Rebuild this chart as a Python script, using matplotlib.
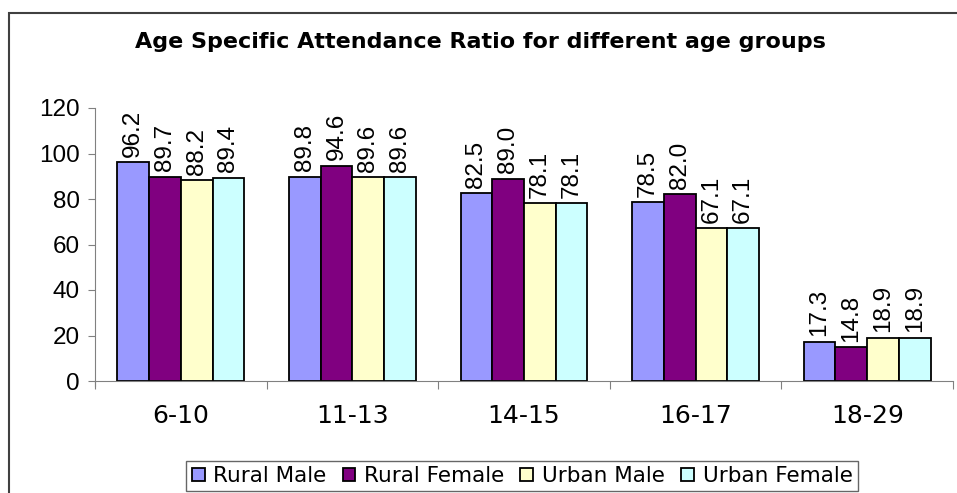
import numpy as np
import matplotlib.pyplot as plt
from matplotlib.patches import Rectangle

# Age groups and attendance ratios
age_groups = ["6-10", "11-13", "14-15", "16-17", "18-29"]
rural_male = [96.2, 89.8, 82.5, 78.5, 17.3]
rural_female = [89.7, 94.6, 89.0, 82.0, 14.8]
urban_male = [88.2, 89.6, 78.1, 67.1, 18.9]
urban_female = [89.4, 89.6, 78.1, 67.1, 18.9]

series_names = ["Rural Male", "Rural Female", "Urban Male", "Urban Female"]
series_values = [rural_male, rural_female, urban_male, urban_female]
colors = ["#9999FF", "#800080", "#FFFFCC", "#CCFFFF"]

fig = plt.figure(figsize=(9.57, 4.93), dpi=100)

# outer chart border (only top and left edges show in the picture)
fig.patches.append(Rectangle((9 / 957, -0.1), 1.2, 1 - 13 / 493 + 0.1,
                             transform=fig.transFigure, fill=False,
                             edgecolor="#404040", linewidth=1.5))

ax = fig.add_axes([95 / 957, 1 - 381 / 493, (953 - 95) / 957, (381 - 108) / 493])

x = np.arange(len(age_groups))
bar_w = 0.185
offsets = (np.arange(4) - 1.5) * bar_w

for name, vals, col, off in zip(series_names, series_values, colors, offsets):
    bars = ax.bar(x + off, vals, bar_w, color=col, edgecolor="black",
                  linewidth=1.3, label=name)
    for b, v in zip(bars, vals):
        ax.annotate(f"{v:.1f}", (b.get_x() + b.get_width() / 2, v),
                    xytext=(0, 4), textcoords="offset points",
                    rotation=90, ha="center", va="bottom",
                    fontsize=17.5, family="Liberation Sans")

ax.set_xlim(-0.5, len(age_groups) - 0.5)
ax.set_ylim(0, 120)
ax.set_yticks(range(0, 121, 20))
ax.tick_params(axis="y", labelsize=17.5, length=5, color="#808080", pad=6)
for lab in ax.get_yticklabels():
    lab.set_family("Liberation Sans")

ax.set_xticks(np.arange(len(age_groups) + 1) - 0.5, minor=False)
ax.set_xticklabels([])
ax.tick_params(axis="x", length=6, color="#808080")
for i, g in enumerate(age_groups):
    ax.text(i, -0.13, g, transform=ax.get_xaxis_transform(), ha="center",
            va="center", fontsize=18, family="DejaVu Sans")

ax.spines["top"].set_visible(False)
ax.spines["right"].set_visible(False)
ax.spines["left"].set_color("#808080")
ax.spines["bottom"].set_color("#808080")
ax.spines["left"].set_bounds(-2, 120)
ax.patch.set_alpha(0)

fig.text(480 / 957, 1 - 42 / 493, "Age Specific Attendance Ratio for different age groups",
         ha="center", va="center", fontsize=16, fontweight="bold", family="DejaVu Sans")

leg = fig.legend(loc="center", bbox_to_anchor=(522 / 957, 1 - 476 / 493), ncol=4,
                 fontsize=15.5, frameon=True, fancybox=False, edgecolor="#404040",
                 handlelength=0.6, handleheight=0.6, handletextpad=0.4,
                 columnspacing=0.75, borderpad=0.25, borderaxespad=0)
leg.get_frame().set_linewidth(1)
for t in leg.get_texts():
    t.set_family("DejaVu Sans")

fig.savefig("out.png", dpi=100)
